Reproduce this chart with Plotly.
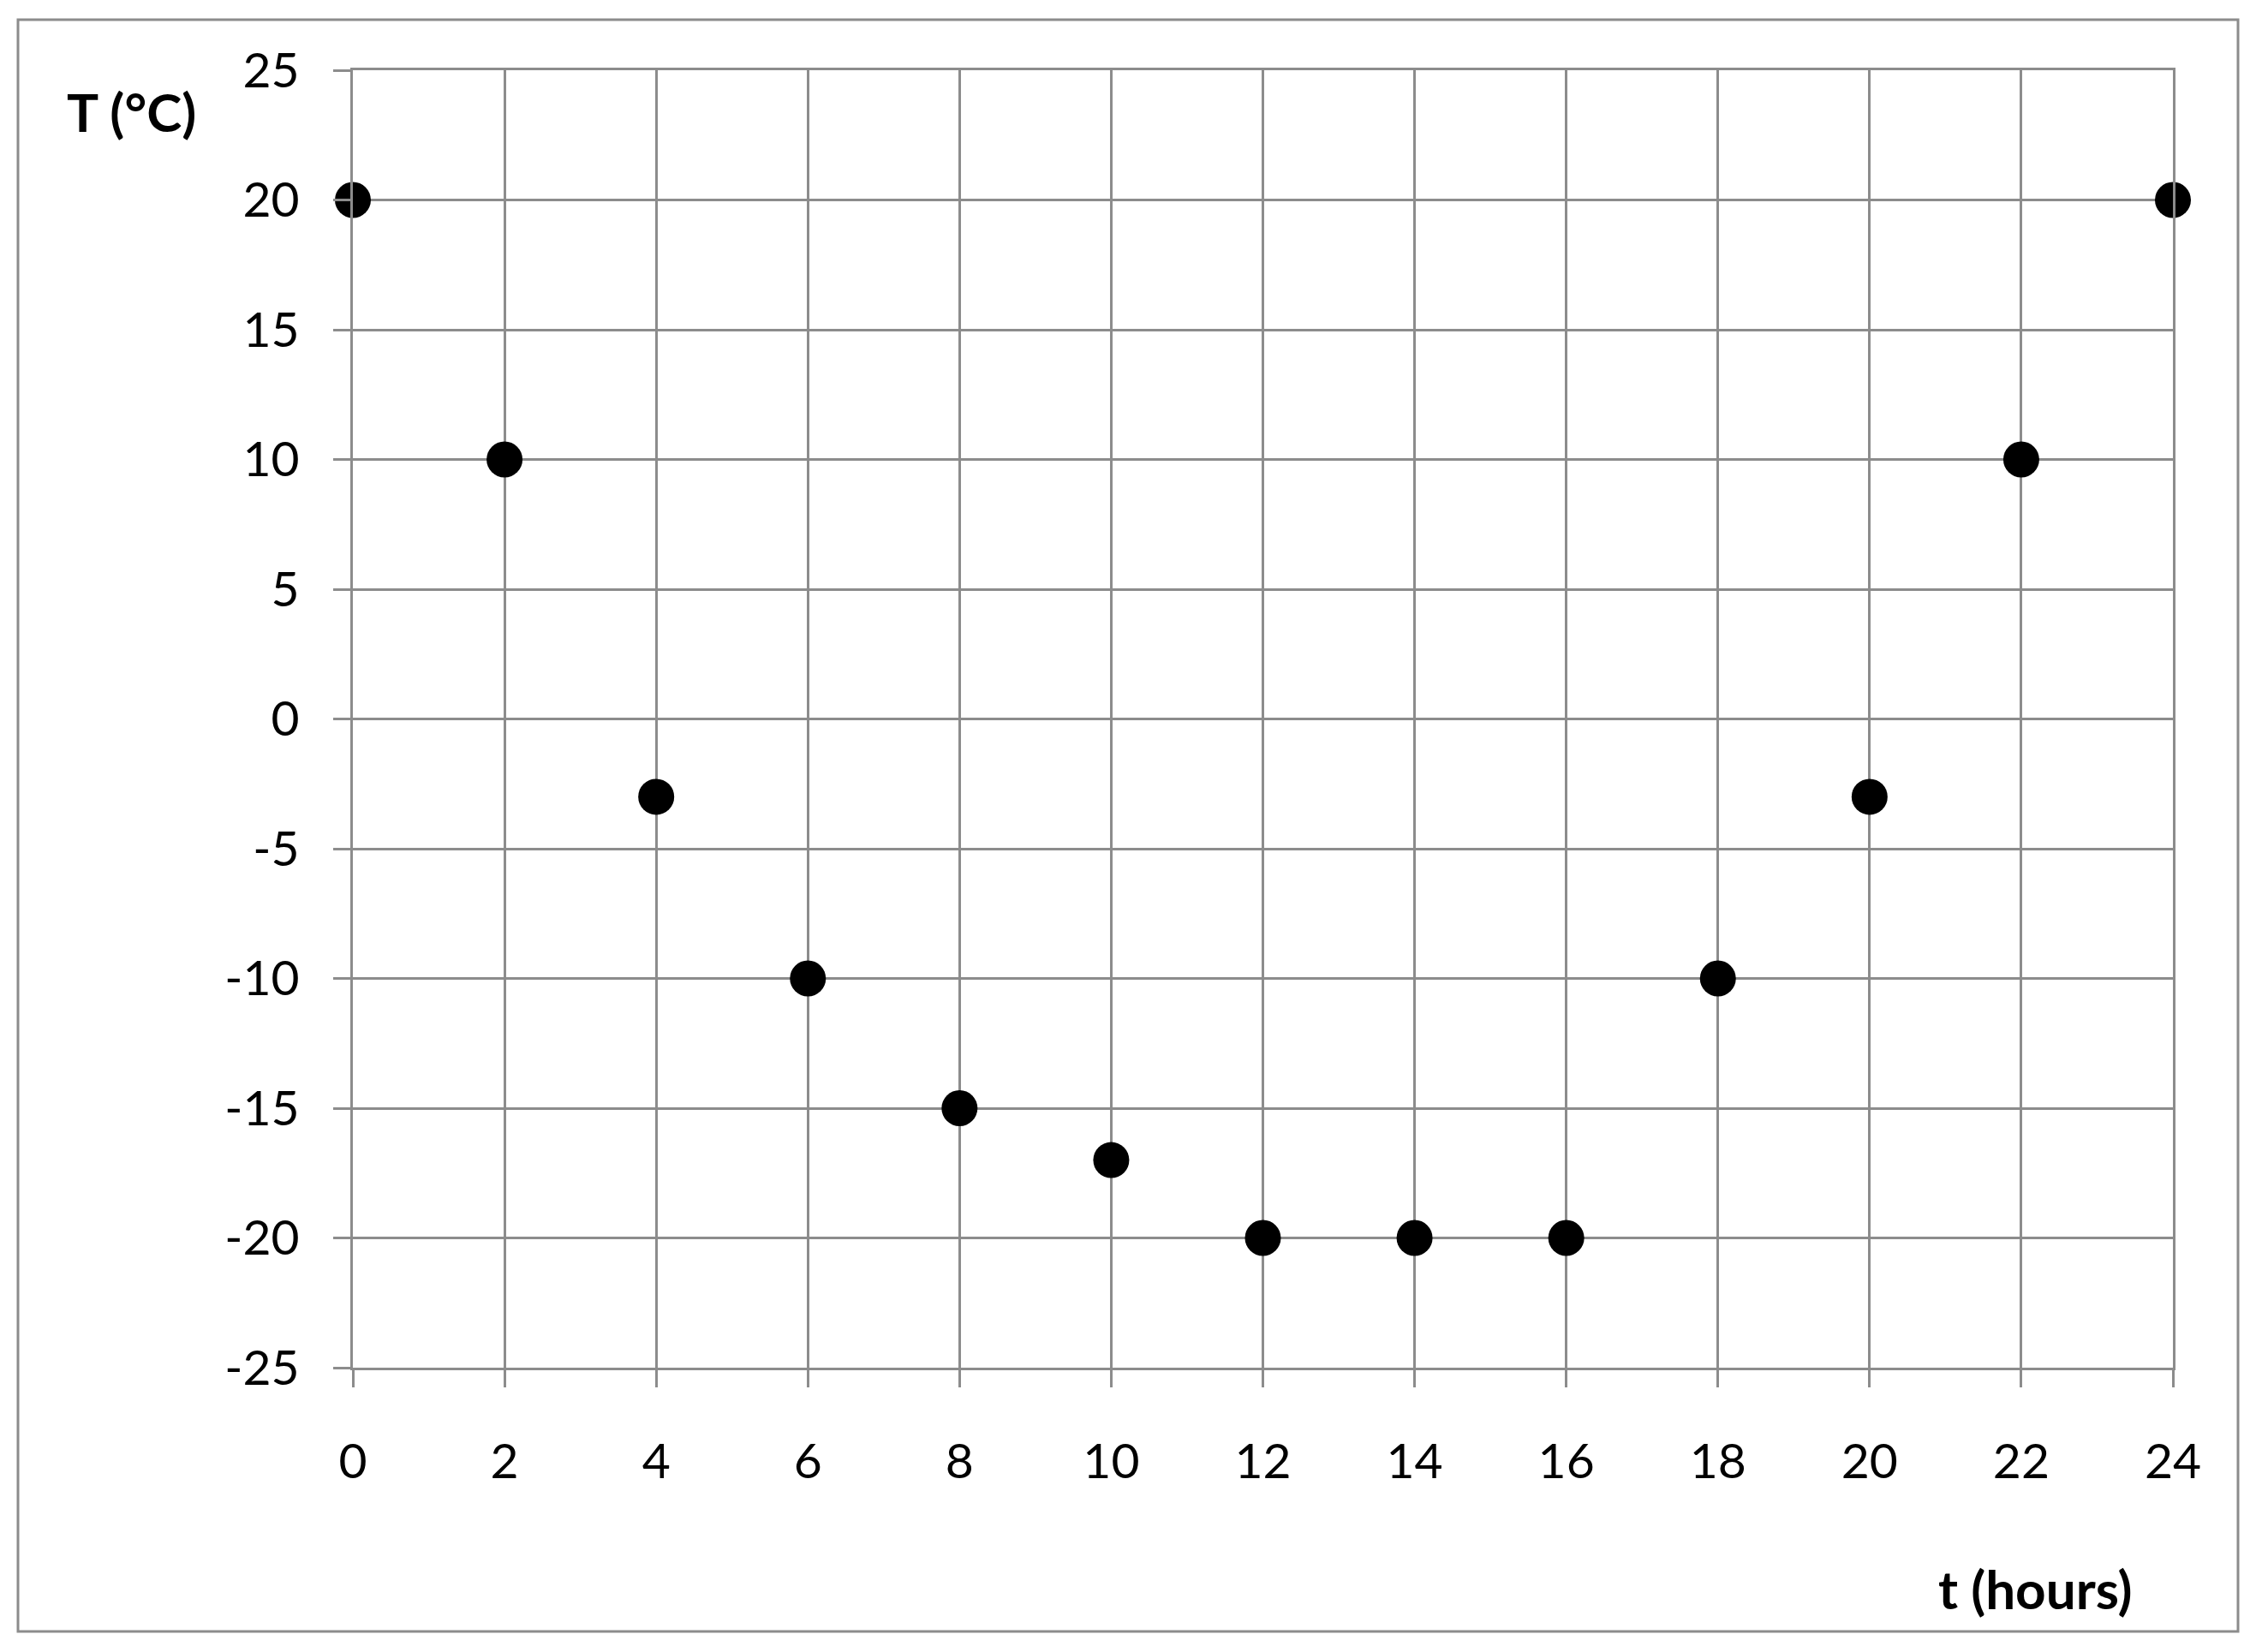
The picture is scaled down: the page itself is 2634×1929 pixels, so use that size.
import plotly.graph_objects as go

hours = [0, 2, 4, 6, 8, 10, 12, 14, 16, 18, 20, 22, 24]
temps = [20, 10, -3, -10, -15, -17, -20, -20, -20, -10, -3, 10, 20]
x_ticks = [0, 2, 4, 6, 8, 10, 12, 14, 16, 18, 20, 22, 24]
y_ticks = [25, 20, 15, 10, 5, 0, -5, -10, -15, -20, -25]

OFF = 8  # default page body margin
W, H = 2634 - OFF, 1929 - OFF
# plot area in absolute page pixels
AX0, AX1, AY0, AY1 = 412, 2537, 82, 1597
L, T = AX0 - OFF, AY0 - OFF
R, B = W - (AX1 - OFF), H - (AY1 - OFF)
pw, ph = W - L - R, H - T - B
grid = "#8c8c8c"
font = "Lato, 'Open Sans', sans-serif"

def px(x):
    return (x - OFF - L) / pw

def py(y):
    return (H - B - (y - OFF)) / ph

fig = go.Figure()
fig.add_trace(go.Scatter(
    x=hours, y=temps, mode="markers",
    marker=dict(color="black", size=42, line=dict(width=0)),
    showlegend=False, cliponaxis=False,
))

axis_common = dict(
    showgrid=True, gridcolor=grid, gridwidth=3,
    showline=True, linecolor=grid, linewidth=3, mirror=True,
    ticks="outside", ticklen=20, tickwidth=3, tickcolor=grid,
    zeroline=False,
    tickfont=dict(family=font, size=57, color="black"),
)

fig.update_xaxes(range=[0, 24], tickvals=x_ticks, ticktext=[str(v) for v in x_ticks],
                 ticklabelstandoff=38, **axis_common)
fig.update_yaxes(range=[-25, 25], tickvals=y_ticks, ticktext=[str(v) for v in y_ticks],
                 ticklabelstandoff=28, **axis_common)

fig.add_shape(type="rect", xref="paper", yref="paper",
              x0=px(21), x1=px(2613), y0=py(1905), y1=py(23),
              line=dict(color=grid, width=3), fillcolor="rgba(0,0,0,0)", layer="below")

fig.add_annotation(text="<b>T (°C)</b>", xref="paper", yref="paper",
                   x=px(76), y=py(130), xanchor="left", yanchor="middle",
                   showarrow=False, font=dict(family=font, size=62, color="black"))
fig.add_annotation(text="<b>t (hours)</b>", xref="paper", yref="paper",
                   x=px(2492), y=py(1855), xanchor="right", yanchor="middle",
                   showarrow=False, font=dict(family=font, size=62, color="black"))

fig.update_layout(
    width=W, height=H,
    margin=dict(l=L, r=R, t=T, b=B, pad=0),
    paper_bgcolor="white", plot_bgcolor="white",
    showlegend=False,
)

fig.write_html("out.html")
